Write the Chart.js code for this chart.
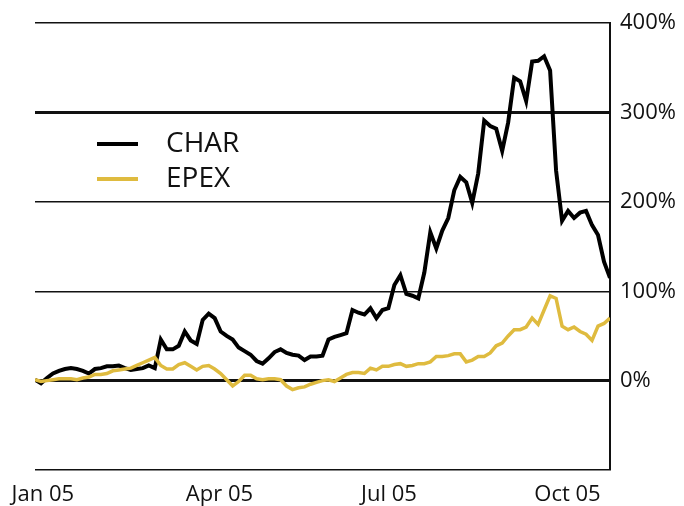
<!DOCTYPE html>
<html>
<head>
<meta charset="utf-8">
<script src="https://cdn.jsdelivr.net/npm/chart.js@4.4.1/dist/chart.umd.min.js"></script>
<style>
  html, body { margin: 0; padding: 0; background: #fff; }
  canvas { display: block; }
</style>
</head>
<body>
<canvas id="chart" width="684" height="506"></canvas>
<script>
// cumulative return, % (samples roughly every 3 days, Jan 05 - late Oct 05)
const charValues = [
  1, -3, 3, 8, 11, 13, 14, 13, 11, 8,
  13, 14, 16, 16, 17, 14, 12, 13, 14, 17,
  14, 46, 35, 35, 39, 55, 45, 41, 68, 75,
  70, 55, 50, 46, 37, 33, 29, 22, 19, 25,
  32, 35, 31, 29, 28, 23, 27, 27, 28, 46,
  49, 51, 53, 79, 76, 74, 81, 70, 79, 81,
  107, 118, 97, 95, 92, 121, 166, 148, 168, 182,
  213, 228, 222, 199, 232, 291, 285, 282, 257, 289,
  339, 335, 313, 357, 358, 363, 347, 235, 179, 190,
  182, 188, 190, 174, 163, 133, 115
];
const epexValues = [
  1, -1, 0, 1, 2, 2, 2, 1, 3, 4,
  7, 7, 8, 11, 12, 13, 14, 17, 20, 23,
  26, 17, 13, 13, 18, 20, 16, 12, 16, 17,
  13, 8, 1, -6, -1, 6, 6, 2, 1, 2,
  2, 1, -6, -10, -8, -7, -4, -2, 0, 1,
  -1, 3, 7, 9, 9, 8, 14, 12, 16, 16,
  18, 19, 16, 17, 19, 19, 21, 27, 27, 28,
  30, 30, 21, 23, 27, 27, 31, 39, 42, 50,
  57, 57, 60, 70, 63, 79, 95, 92, 61, 57,
  60, 55, 52, 45, 61, 64, 70
];
const seriesNames = ['CHAR', 'EPEX'];
const seriesColors = ['#000000', '#dfbb3f'];
const monthLabels = ['Jan 05', 'Apr 05', 'Jul 05', 'Oct 05'];
const monthTickPos = [1.3, 30.8, 59.1, 88.9];
const yTicks = [-100, 0, 100, 200, 300, 400];

const FONT = '"Open Sans", "Noto Sans", sans-serif';

// legend drawn inside the plot, top left
const insideLegend = {
  id: 'insideLegend',
  afterDraw(chart) {
    const ctx = chart.ctx;
    ctx.save();
    chart.data.datasets.forEach((ds, i) => {
      const y = 144 + i * 35;
      ctx.strokeStyle = ds.borderColor;
      ctx.lineWidth = 4;
      ctx.beginPath();
      ctx.moveTo(97, y);
      ctx.lineTo(138, y);
      ctx.stroke();
      ctx.fillStyle = '#111';
      ctx.font = '28px ' + FONT;
      ctx.textBaseline = 'middle';
      ctx.fillText(ds.label, 166, y);
    });
    ctx.restore();
  }
};

const points = arr => arr.map((v, i) => ({ x: i, y: v }));

new Chart(document.getElementById('chart').getContext('2d'), {
  type: 'line',
  data: {
    datasets: [
      {
        label: seriesNames[0],
        data: points(charValues),
        borderColor: seriesColors[0],
        borderWidth: 4,
        pointRadius: 0,
        tension: 0,
        order: 1
      },
      {
        label: seriesNames[1],
        data: points(epexValues),
        borderColor: seriesColors[1],
        borderWidth: 3.5,
        pointRadius: 0,
        tension: 0,
        order: 0
      }
    ]
  },
  options: {
    responsive: false,
    animation: false,
    layout: { padding: { left: 35, top: 22, right: 0, bottom: 0 } },
    plugins: {
      legend: { display: false },
      tooltip: { enabled: false }
    },
    scales: {
      x: {
        type: 'linear',
        min: 0,
        max: charValues.length - 1,
        grid: { display: false },
        border: { display: false },
        afterBuildTicks: axis => {
          axis.ticks = monthTickPos.map(v => ({ value: v }));
        },
        afterFit: axis => { axis.height = 36; },
        ticks: {
          autoSkip: false,
          maxRotation: 0,
          padding: 4,
          color: '#111',
          font: { family: FONT, size: 22 },
          callback: (v, i) => monthLabels[i]
        }
      },
      y: {
        position: 'right',
        min: -100,
        max: 400,
        afterBuildTicks: axis => {
          axis.ticks = yTicks.map(v => ({ value: v }));
        },
        afterFit: axis => { axis.width = 74; },
        border: { display: true, color: '#111', width: 2 },
        grid: {
          drawTicks: false,
          color: '#111',
          lineWidth: c => (c.tick && (c.tick.value === 0 || c.tick.value === 300)) ? 3 : 1.5
        },
        ticks: {
          padding: 10,
          color: '#111',
          font: { family: FONT, size: 22 },
          callback: v => v < 0 ? '' : v + '%'
        }
      }
    }
  },
  plugins: [insideLegend]
});
</script>
</body>
</html>
